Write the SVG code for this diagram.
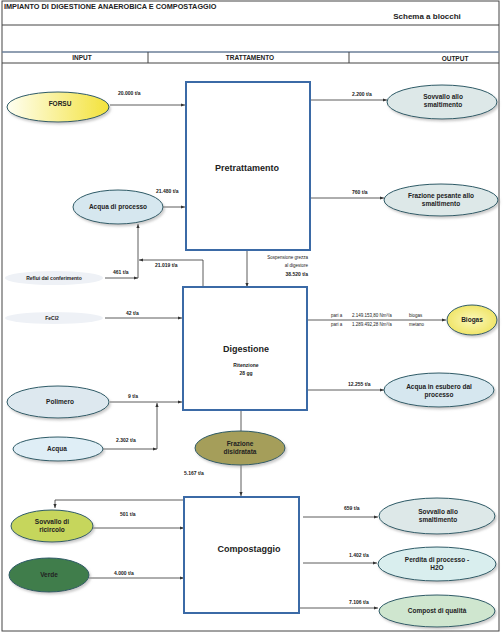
<svg xmlns="http://www.w3.org/2000/svg" width="504" height="632" viewBox="0 0 504 632">
<style>
text{font-family:"Liberation Sans",Arial,sans-serif;font-weight:bold;fill:#222}
.t{font-size:6.5px;text-anchor:middle}
.q{font-size:5px}
.h{font-size:6.5px;text-anchor:middle}
.b{font-size:9px;text-anchor:middle}
.box{fill:#fff;stroke:#3b6aa6;stroke-width:2}
.el{stroke:#2d5a66;stroke-width:1}
.ln{fill:none;stroke:#333;stroke-width:0.8}
.frame{fill:none;stroke:#444;stroke-width:1}
</style>
<defs>
<marker id="a" viewBox="0 0 10 10" refX="10" refY="5" markerWidth="5" markerHeight="5" orient="auto"><path d="M0,1 L10,5 L0,9 z" fill="#333"/></marker>
<linearGradient id="gy" x1="0" y1="0" x2="1" y2="0"><stop offset="0" stop-color="#fffff2"/><stop offset="1" stop-color="#f3e23a"/></linearGradient>
<radialGradient id="gb"><stop offset="0" stop-color="#fbf8b8"/><stop offset="1" stop-color="#f0e56a"/></radialGradient>
<filter id="sh" x="-10%" y="-20%" width="130%" height="160%"><feDropShadow dx="1.5" dy="2" stdDeviation="1" flood-color="#999" flood-opacity="0.5"/></filter>
</defs>
<rect width="504" height="632" fill="#fff"/>
<g id="frame">
<rect class="frame" x="2" y="1" width="497" height="630"/>
<line class="frame" x1="2" y1="25" x2="499" y2="25"/>
<line x1="2" y1="52" x2="499" y2="52" stroke="#6b7f99" stroke-width="1.5"/>
<line class="frame" x1="2" y1="63" x2="499" y2="63"/>
<line class="frame" x1="148" y1="52" x2="148" y2="63"/>
<line class="frame" x1="349" y1="52" x2="349" y2="63"/>
<text x="4" y="9" style="font-size:7.3px">IMPIANTO DI DIGESTIONE ANAEROBICA E COMPOSTAGGIO</text>
<text x="427" y="19" style="font-size:8px;text-anchor:middle">Schema a blocchi</text>
<text class="h" x="82" y="60">INPUT</text>
<text class="h" x="250" y="60">TRATTAMENTO</text>
<text class="h" x="455" y="61">OUTPUT</text>
</g>
<g id="connectors">
<line class="ln" x1="110" y1="105" x2="185" y2="105" marker-end="url(#a)"/>
<line class="ln" x1="163" y1="207" x2="185" y2="207" marker-end="url(#a)"/>
<line class="ln" x1="310" y1="100" x2="387" y2="100" marker-end="url(#a)"/>
<line class="ln" x1="310" y1="198" x2="384" y2="198" marker-end="url(#a)"/>
<polyline class="ln" points="203,287 203,260 139,260" marker-end="url(#a)"/>
<line class="ln" x1="138" y1="278" x2="138" y2="224" marker-end="url(#a)"/>
<line class="ln" x1="105" y1="278" x2="138" y2="278" marker-end="url(#a)"/>
<line class="ln" x1="105" y1="318" x2="182" y2="318" marker-end="url(#a)"/>
<line class="ln" x1="247" y1="251" x2="247" y2="287" marker-end="url(#a)"/>
<line class="ln" x1="307" y1="320" x2="446" y2="320" marker-end="url(#a)"/>
<line class="ln" x1="307" y1="390" x2="384" y2="390" marker-end="url(#a)"/>
<line class="ln" x1="110" y1="402" x2="182" y2="402" marker-end="url(#a)"/>
<polyline class="ln" points="103,449 157,449" marker-end="url(#a)"/>
<line class="ln" x1="157" y1="449" x2="157" y2="403" marker-end="url(#a)"/>
<line class="ln" x1="241" y1="410" x2="241" y2="431"/>
<line class="ln" x1="241" y1="465" x2="241" y2="496" marker-end="url(#a)"/>
<polyline class="ln" points="184,500 55,500 55,508" marker-end="url(#a)"/>
<line class="ln" x1="93" y1="528" x2="184" y2="528" marker-end="url(#a)"/>
<line class="ln" x1="89" y1="578" x2="184" y2="578" marker-end="url(#a)"/>
<line class="ln" x1="303" y1="517" x2="378" y2="517" marker-end="url(#a)"/>
<line class="ln" x1="303" y1="563" x2="377" y2="563" marker-end="url(#a)"/>
<line class="ln" x1="299" y1="608" x2="378" y2="608" marker-end="url(#a)"/>
<text class="q" x="118" y="95">20.000 t/a</text>
<text class="q" x="156" y="193">21.480 t/a</text>
<text class="q" x="352" y="96">2.200 t/a</text>
<text class="q" x="352" y="194">760 t/a</text>
<text class="q" x="155" y="267">21.019 t/a</text>
<text class="q" x="113" y="274">461 t/a</text>
<text class="q" x="126" y="315">42 t/a</text>
<text x="308" y="259" style="font-size:4.5px;font-weight:normal;text-anchor:end">Sospensione grezza</text>
<text x="308" y="267" style="font-size:4.5px;font-weight:normal;text-anchor:end">al digestore</text>
<text class="q" x="308" y="276" style="text-anchor:end">38.520 t/a</text>
<g>
<text x="331" y="317" style="font-size:4.5px;font-weight:normal">pari a</text>
<text x="352" y="317" style="font-size:4.5px;font-weight:normal">2.149.153,80 Nm³/a</text>
<text x="409" y="317" style="font-size:4.5px;font-weight:normal">biogas</text>
<text x="331" y="326" style="font-size:4.5px;font-weight:normal">pari a</text>
<text x="352" y="326" style="font-size:4.5px;font-weight:normal">1.289.492,28 Nm³/a</text>
<text x="409" y="326" style="font-size:4.5px;font-weight:normal">metano</text>
</g>
<text class="q" x="348" y="386">12.255 t/a</text>
<text class="q" x="128" y="398">9 t/a</text>
<text class="q" x="116" y="442">2.302 t/a</text>
<text class="q" x="184" y="475">5.167 t/a</text>
<text class="q" x="120" y="516">501 t/a</text>
<text class="q" x="114" y="575">4.000 t/a</text>
<text class="q" x="344" y="510">659 t/a</text>
<text class="q" x="349" y="557">1.402 t/a</text>
<text class="q" x="349" y="604">7.106 t/a</text>
</g>
<g id="pretrattamento"><rect class="box" x="186" y="82" width="124" height="168"/><text class="b" x="247" y="171">Pretrattamento</text></g>
<g id="digestione"><rect class="box" x="183" y="287" width="124" height="123"/><text class="b" x="246" y="352">Digestione</text><text class="t" x="246" y="367" style="font-size:5px">Ritenzione</text><text class="t" x="246" y="375" style="font-size:5px">28 gg</text></g>
<g id="compostaggio"><rect class="box" x="184" y="497" width="115" height="116"/><text class="b" x="249" y="552">Compostaggio</text></g>
<g id="forsu"><ellipse class="el" filter="url(#sh)" cx="58" cy="107" rx="51" ry="15" fill="url(#gy)"/><text class="t" x="60" y="106">FORSU</text></g>
<g id="acqua-processo"><ellipse class="el" filter="url(#sh)" cx="118" cy="207" rx="45" ry="17" fill="#d6e7ef"/><text class="t" x="118" y="209">Acqua di processo</text></g>
<g id="reflui"><ellipse cx="54" cy="278" rx="49" ry="7" fill="#eef1f6"/><text class="t" x="54" y="280" style="font-size:5px">Reflui dal conferimento</text></g>
<g id="fecl2"><ellipse cx="54" cy="318" rx="49" ry="6" fill="#eef1f6"/><text class="t" x="52" y="320" style="font-size:5px">FeCl2</text></g>
<g id="polimero"><ellipse class="el" filter="url(#sh)" cx="58" cy="402" rx="51" ry="16" fill="#dde8ef"/><text class="t" x="60" y="404">Polimero</text></g>
<g id="acqua"><ellipse class="el" filter="url(#sh)" cx="58" cy="449" rx="45" ry="12" fill="#dfeef6"/><text class="t" x="57" y="451">Acqua</text></g>
<g id="sovvallo-1"><ellipse class="el" filter="url(#sh)" cx="442" cy="102" rx="55" ry="17" fill="#dde8e8"/><text class="t" x="443" y="99">Sovvallo allo</text><text class="t" x="443" y="107">smaltimento</text></g>
<g id="frazione-pesante"><ellipse class="el" filter="url(#sh)" cx="441" cy="200" rx="57" ry="16" fill="#dde8e8"/><text class="t" x="441" y="198">Frazione pesante allo</text><text class="t" x="441" y="206">smaltimento</text></g>
<g id="biogas"><ellipse class="el" filter="url(#sh)" cx="472" cy="320" rx="25" ry="15" fill="url(#gb)"/><text class="t" x="472" y="322">Biogas</text></g>
<g id="acqua-esubero"><ellipse class="el" filter="url(#sh)" cx="439" cy="390" rx="55" ry="17" fill="#d6e7ef"/><text class="t" x="439" y="389">Acqua in esubero dal</text><text class="t" x="439" y="397">processo</text></g>
<g id="frazione-disidratata"><ellipse class="el" filter="url(#sh)" cx="240" cy="448" rx="45" ry="17" fill="#a59e5a"/><text class="t" x="240" y="446">Frazione</text><text class="t" x="240" y="454">disidratata</text></g>
<g id="sovvallo-ricircolo"><ellipse class="el" filter="url(#sh)" cx="52" cy="526" rx="41" ry="16" fill="#c6d65c"/><text class="t" x="52" y="524">Sovvallo di</text><text class="t" x="52" y="532">ricircolo</text></g>
<g id="verde"><ellipse class="el" filter="url(#sh)" cx="49" cy="575" rx="40" ry="17" fill="#3f7d4c"/><text class="t" x="49" y="577">Verde</text></g>
<g id="sovvallo-2"><ellipse class="el" filter="url(#sh)" cx="437" cy="516" rx="58" ry="18" fill="#dde8e8"/><text class="t" x="438" y="514">Sovvallo allo</text><text class="t" x="438" y="522">smaltimento</text></g>
<g id="perdita"><ellipse class="el" filter="url(#sh)" cx="437" cy="564" rx="59" ry="17" fill="#d9eeee"/><text class="t" x="437" y="562">Perdita di processo -</text><text class="t" x="437" y="570">H2O</text></g>
<g id="compost"><ellipse class="el" filter="url(#sh)" cx="437" cy="611" rx="58" ry="16" fill="#cfe6cf"/><text class="t" x="437" y="613">Compost di qualità</text></g>
</svg>
